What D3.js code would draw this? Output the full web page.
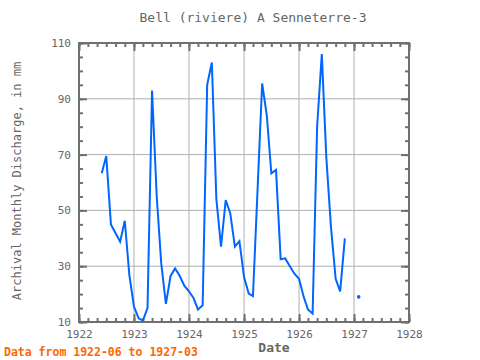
<!DOCTYPE html>
<html>
<head>
<meta charset="utf-8">
<script src="https://cdn.jsdelivr.net/npm/d3@7"></script>
<style>
  html, body { margin: 0; padding: 0; background: #fff; }
  svg { display: block; }
  text { font-family: "DejaVu Sans Mono", monospace; }
</style>
</head>
<body>
<svg id="chart" width="480" height="360"></svg>
<script>
// ---- data ----
const title = "Bell (riviere) A Senneterre-3";
const yLabel = "Archival Monthly Discharge, in mm";
const xLabel = "Date";
const note = "Data from 1922-06 to 1927-03";

const months = [
  "1922-06","1922-07","1922-08","1922-09","1922-10","1922-11","1922-12",
  "1923-01","1923-02","1923-03","1923-04","1923-05","1923-06","1923-07","1923-08","1923-09","1923-10","1923-11","1923-12",
  "1924-01","1924-02","1924-03","1924-04","1924-05","1924-06","1924-07","1924-08","1924-09","1924-10","1924-11","1924-12",
  "1925-01","1925-02","1925-03","1925-04","1925-05","1925-06","1925-07","1925-08","1925-09","1925-10","1925-11","1925-12",
  "1926-01","1926-02","1926-03","1926-04","1926-05","1926-06","1926-07","1926-08","1926-09","1926-10","1926-11","1926-12",
  "1927-01","1927-02","1927-03"
];
const discharge = [
  63.3, 69.5, 45, 41.8, 38.8, 46.3, 27,
  15.5, 11.3, 10.5, 15, 93, 55, 31, 16.5, 26.5, 29.2, 26.5, 23,
  21, 18.5, 14.5, 16, 95, 103, 54, 37, 53.7, 49, 37, 39,
  26, 20.2, 19.3, 58, 95.5, 84, 63.3, 64.5, 32.5, 32.8, 30, 27.3,
  25.5, 19, 14.5, 13, 80, 106, 69, 44, 25.5, 21, 40, null,
  null, 19, null
];
const xTickYears = [1922, 1923, 1924, 1925, 1926, 1927, 1928];
const yTickValues = [10, 30, 50, 70, 90, 110];

// ---- layout ----
const svg = d3.select("#chart");
const L = 79, R = 409, T = 43, B = 322;
const parse = d3.timeParse("%Y-%m");
const data = months.map((m, i) => ({ d: parse(m), v: discharge[i] }));

const x = d3.scaleTime()
  .domain([new Date(1922, 0, 1), new Date(1928, 0, 1)])
  .range([L, R]);
const y = d3.scaleLinear().domain([10, 110]).range([B, T]);

const gridColor = "#b0b0b0";
const axisColor = "#707070";
const textColor = "#666666";

// grid
const g = svg.append("g");
g.selectAll("line.vg").data(xTickYears.slice(1, -1)).enter().append("line")
  .attr("x1", d => x(new Date(d, 0, 1))).attr("x2", d => x(new Date(d, 0, 1)))
  .attr("y1", T).attr("y2", B)
  .attr("stroke", gridColor).attr("stroke-width", 1);
g.selectAll("line.hg").data(yTickValues.slice(1, -1)).enter().append("line")
  .attr("x1", L).attr("x2", R)
  .attr("y1", d => y(d)).attr("y2", d => y(d))
  .attr("stroke", gridColor).attr("stroke-width", 1);

// ticks (inside the frame) via d3 axes
const minorY = d3.range(10, 111, 5);
const monthTicks = d3.timeMonth.every(2).range(new Date(1922, 0, 1), new Date(1928, 0, 2));

function styleAxis(sel) {
  sel.select(".domain").remove();
  sel.selectAll("line").attr("stroke", axisColor).attr("stroke-width", 2);
  sel.selectAll("text").remove();
}
svg.append("g").attr("transform", `translate(${L},0)`)
  .call(d3.axisRight(y).tickValues(minorY).tickSize(4)).call(styleAxis);
svg.append("g").attr("transform", `translate(${L},0)`)
  .call(d3.axisRight(y).tickValues(yTickValues).tickSize(8)).call(styleAxis);
svg.append("g").attr("transform", `translate(${R},0)`)
  .call(d3.axisLeft(y).tickValues(minorY).tickSize(4)).call(styleAxis);
svg.append("g").attr("transform", `translate(${R},0)`)
  .call(d3.axisLeft(y).tickValues(yTickValues).tickSize(8)).call(styleAxis);
svg.append("g").attr("transform", `translate(0,${T})`)
  .call(d3.axisBottom(x).tickValues(monthTicks).tickSize(4)).call(styleAxis);
svg.append("g").attr("transform", `translate(0,${T})`)
  .call(d3.axisBottom(x).tickValues(xTickYears.map(d => new Date(d, 0, 1))).tickSize(8)).call(styleAxis);
svg.append("g").attr("transform", `translate(0,${B})`)
  .call(d3.axisTop(x).tickValues(monthTicks).tickSize(4)).call(styleAxis);
svg.append("g").attr("transform", `translate(0,${B})`)
  .call(d3.axisTop(x).tickValues(xTickYears.map(d => new Date(d, 0, 1))).tickSize(8)).call(styleAxis);

// tick labels
svg.append("g").attr("transform", `translate(${L},0)`)
  .call(d3.axisLeft(y).tickValues(yTickValues).tickSize(0).tickPadding(8))
  .call(s => {
    s.select(".domain").remove();
    s.selectAll("text").attr("fill", textColor).style("font-size", "11px")
      .style("font-family", "DejaVu Sans Mono, monospace");
  });
svg.append("g").attr("transform", `translate(0,${B})`)
  .call(d3.axisBottom(x).tickValues(xTickYears.map(d => new Date(d, 0, 1)))
    .tickFormat(d3.timeFormat("%Y")).tickSize(0).tickPadding(8))
  .call(s => {
    s.select(".domain").remove();
    s.selectAll("text").attr("fill", textColor).style("font-size", "11px")
      .style("font-family", "DejaVu Sans Mono, monospace");
  });

// frame
svg.append("rect").attr("x", L).attr("y", T).attr("width", R - L).attr("height", B - T)
  .attr("fill", "none").attr("stroke", axisColor).attr("stroke-width", 2);

// data line
const line = d3.line()
  .defined(d => d.v != null)
  .x(d => x(d.d)).y(d => y(d.v));
svg.append("path").datum(data)
  .attr("d", line)
  .attr("fill", "none").attr("stroke", "#0066ff").attr("stroke-width", 2)
  .attr("stroke-linejoin", "miter");

// isolated points
const isolated = data.filter((d, i) => d.v != null &&
  (i === 0 || data[i - 1].v == null) && (i === data.length - 1 || data[i + 1].v == null));
svg.selectAll("circle.iso").data(isolated).enter().append("circle")
  .attr("cx", d => x(d.d)).attr("cy", d => y(d.v)).attr("r", 1.8)
  .attr("fill", "#0066ff");

// texts
svg.append("text").attr("x", 253).attr("y", 22).attr("text-anchor", "middle")
  .attr("fill", textColor).style("font-size", "13px").text(title);
svg.append("text").attr("transform", "translate(21,181) rotate(-90)")
  .attr("text-anchor", "middle").attr("fill", textColor)
  .style("font-size", "12px").text(yLabel);
svg.append("text").attr("x", 274).attr("y", 352).attr("text-anchor", "middle")
  .attr("fill", textColor).style("font-size", "13px").style("font-weight", "bold").text(xLabel);
svg.append("text").attr("x", 4).attr("y", 356)
  .attr("fill", "#ff6600").style("font-size", "11.5px").style("font-weight", "bold").text(note);
</script>
</body>
</html>
